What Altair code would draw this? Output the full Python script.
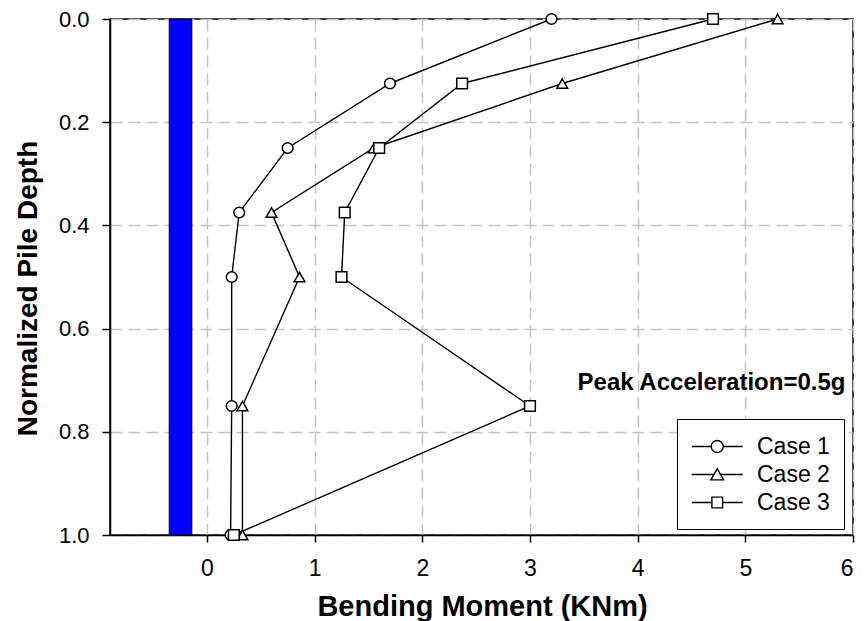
import altair as alt
import pandas as pd

# ---- data ----
depth = [0.0, 0.125, 0.25, 0.375, 0.5, 0.75, 1.0]
case1 = [3.2, 1.70, 0.75, 0.30, 0.23, 0.23, 0.22]
case2 = [5.3, 3.30, 1.55, 0.60, 0.86, 0.33, 0.33]
case3 = [4.7, 2.37, 1.60, 1.28, 1.25, 3.00, 0.25]
cases = ["Case 1", "Case 2", "Case 3"]

pile_left = [-0.35]
pile_right = [-0.14]
pile_top = [0.0]
pile_bottom = [1.0]

note_text = ["Peak Acceleration=0.5g"]
note_x = [5.93]
note_y = [0.705]

x_ticks = [0, 1, 2, 3, 4, 5, 6]
y_ticks = [0.0, 0.2, 0.4, 0.6, 0.8, 1.0]

FONT = "Liberation Sans"

rows = []
for name, vals in zip(cases, [case1, case2, case3]):
    for d, v in zip(depth, vals):
        rows.append({"case": name, "moment": v, "depth": d})
df = pd.DataFrame(rows)

pile_df = pd.DataFrame({"x1": pile_left, "x2": pile_right, "y1": pile_top, "y2": pile_bottom})
note_df = pd.DataFrame({"t": note_text, "x": note_x, "y": note_y})

xscale = alt.Scale(domain=[-0.9, 6], nice=False, zero=False)
yscale = alt.Scale(domain=[0, 1], nice=False, reverse=True)

xaxis = alt.Axis(values=x_ticks, title="Bending Moment (KNm)", format="d",
                 grid=True, gridDash=[12, 6], gridColor="#c4c4c4", gridWidth=1.5,
                 tickSize=7, tickColor="black", tickWidth=1.5,
                 domainColor="black", domainWidth=1.5,
                 labelFont=FONT, labelFontSize=23, labelColor="black", labelPadding=15,
                 titleFont=FONT, titleFontSize=29, titleFontWeight="bold", titleColor="black",
                 titleX=372, titleY=80, titleAlign="center", titleBaseline="alphabetic")
yaxis = alt.Axis(values=y_ticks, title="Normalized Pile Depth", format=".1f",
                 grid=True, gridDash=[12, 6], gridColor="#c4c4c4", gridWidth=1.5,
                 tickSize=8, tickColor="black", tickWidth=1.5,
                 domainColor="black", domainWidth=1.5,
                 labelFont=FONT, labelFontSize=22, labelColor="black", labelPadding=13,
                 titleFont=FONT, titleFontSize=28, titleFontWeight="bold", titleColor="black",
                 titleX=-74, titleY=269, titleAlign="center", titleBaseline="alphabetic",
                 titleAngle=270)

base = alt.Chart(df)

pile = alt.Chart(pile_df).mark_rect(fill="#0000ff", stroke="black", strokeWidth=1).encode(
    x=alt.X("x1:Q", scale=xscale, axis=xaxis),
    x2="x2:Q",
    y=alt.Y("y1:Q", scale=yscale, axis=yaxis),
    y2="y2:Q",
)

lines = base.mark_line(color="black", strokeWidth=1.4).encode(
    x=alt.X("moment:Q", scale=xscale),
    y=alt.Y("depth:Q", scale=yscale),
    detail="case:N",
    order="depth:Q",
)

points = base.mark_point(filled=True, fill="white", stroke="black", strokeWidth=1.5,
                         opacity=1, size=115).encode(
    x=alt.X("moment:Q", scale=xscale),
    y=alt.Y("depth:Q", scale=yscale),
    shape=alt.Shape("case:N",
                    scale=alt.Scale(domain=cases, range=["circle", "triangle-up", "square"]),
                    legend=None),
)

# legend symbols: line with marker
r = 0.47
circ_path = (f"M-1,0L{1-r},0M{1+r},0L3,0"
             f"M{1-r},0A{r},{r},0,1,1,{1+r},0A{r},{r},0,1,1,{1-r},0Z")
tri_path = "M-1,0L0.74,0M1.26,0L3,0M0.5,0.42L1.5,0.42L1,-0.45Z"
sq_path = "M-1,0L0.58,0M1.42,0L3,0M0.58,-0.42L1.42,-0.42L1.42,0.42L0.58,0.42Z"

legend_layer = base.transform_filter("false").mark_point(
    filled=False, stroke="black", strokeWidth=1.4, opacity=1
).encode(
    x=alt.X("moment:Q", scale=xscale),
    y=alt.Y("depth:Q", scale=yscale),
    shape=alt.Shape("case:N",
                    scale=alt.Scale(domain=cases, range=[circ_path, tri_path, sq_path]),
                    legend=alt.Legend(title=None, orient="none", legendX=567, legendY=400,
                                      symbolSize=650, symbolStrokeColor="black",
                                      symbolStrokeWidth=1.4, symbolFillColor="transparent",
                                      labelFont=FONT, labelFontSize=23, labelColor="black",
                                      labelOffset=39, rowPadding=2, padding=14,
                                      strokeColor="black", fillColor="white")),
)

note = alt.Chart(note_df).mark_text(font=FONT, fontSize=24, fontWeight="bold", align="right",
                                    baseline="middle", color="black").encode(
    x=alt.X("x:Q", scale=xscale),
    y=alt.Y("y:Q", scale=yscale),
    text="t:N",
)

chart = alt.layer(pile, lines, points, legend_layer, note).resolve_scale(
    shape="independent"
).properties(
    width=743, height=516,
    padding={"left": 110, "top": 19, "right": 13, "bottom": 86},
    autosize=alt.AutoSizeParams(type="none"),
    background="white",
).configure_view(stroke="black", strokeWidth=1.5)

chart.save("out.html", embed_options={"renderer": "svg", "actions": False})
